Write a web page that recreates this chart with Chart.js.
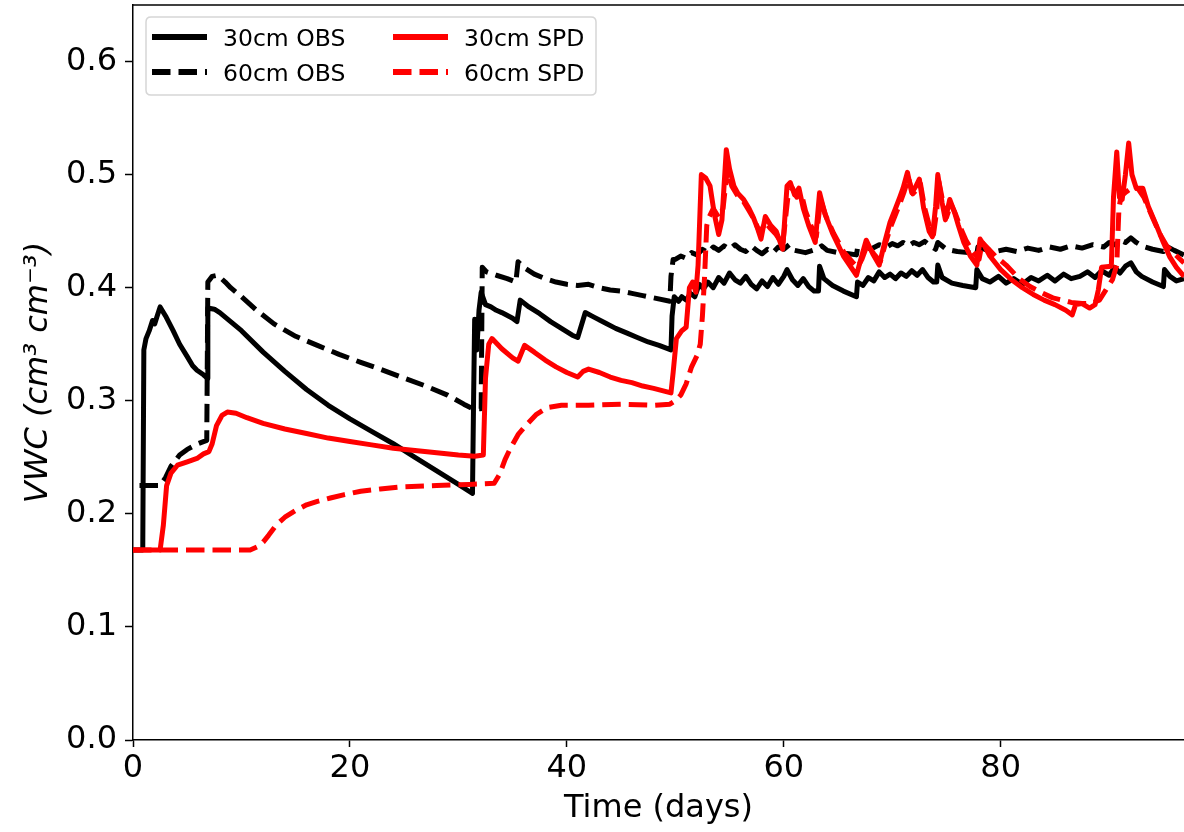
<!DOCTYPE html>
<html>
<head>
<meta charset="utf-8">
<script src="https://cdn.jsdelivr.net/npm/chart.js@4.4.1/dist/chart.umd.min.js"></script>
<style>
  html, body { margin: 0; padding: 0; background: #fff; }
  #wrap { width: 1184px; height: 832px; position: relative; }
</style>
</head>
<body>
<div id="wrap"><canvas id="c" width="1184" height="832"></canvas></div>
<script>
// ---------- data ----------
const seriesLabels = ['30cm OBS', '60cm OBS', '30cm SPD', '60cm SPD'];
const xTickValues = [0, 20, 40, 60, 80];
const yTickValues = [0.0, 0.1, 0.2, 0.3, 0.4, 0.5, 0.6];

const obs30Days = [0, 0.9, 1.0, 1.2, 1.5, 1.8, 2.0, 2.2, 2.5, 3.0, 3.7, 4.3, 5.0, 5.5, 5.9, 6.5, 6.85, 6.9, 7.5, 8.0, 9.0, 10.0, 12.0, 14.0, 16.0, 18.0, 20.0, 22.0, 24.0, 26.0, 28.0, 30.0, 31.3, 31.4, 31.5, 31.7, 31.9, 32.1, 32.5, 33.0, 33.5, 34.0, 35.0, 35.4, 35.7, 36.5, 37.5, 38.5, 39.5, 40.5, 41.0, 41.7, 42.5, 43.5, 44.5, 45.5, 46.5, 47.5, 48.5, 49.6, 49.7, 49.9, 50.3, 50.6, 51.0, 51.4, 51.8, 52.2, 52.6, 53.0, 53.5, 54.0, 54.5, 55.0, 55.5, 56.0, 56.5, 57.0, 57.5, 58.0, 58.5, 59.0, 59.5, 60.0, 60.3, 60.8, 61.3, 61.8, 62.3, 62.8, 63.2, 63.3, 63.7, 64.5, 65.5, 66.7, 66.8, 67.3, 67.8, 68.3, 68.8, 69.3, 69.8, 70.3, 70.8, 71.3, 71.8, 72.3, 72.8, 73.3, 73.8, 74.1, 74.2, 74.6, 75.5, 76.5, 77.7, 77.8, 78.3, 79.0, 79.8, 80.5, 81.2, 82.0, 82.8, 83.5, 84.3, 85.0, 85.8, 86.5, 87.3, 88.0, 88.7, 89.3, 90.0, 90.5, 91.0, 91.5, 92.0, 92.5, 93.0, 94.0, 95.0, 95.1, 95.6, 96.2, 96.9];
const obs30Vals = [0.168, 0.168, 0.345, 0.355, 0.362, 0.371, 0.368, 0.374, 0.383, 0.375, 0.362, 0.350, 0.339, 0.331, 0.327, 0.323, 0.320, 0.382, 0.381, 0.378, 0.370, 0.362, 0.343, 0.326, 0.310, 0.296, 0.284, 0.273, 0.262, 0.250, 0.238, 0.226, 0.218, 0.300, 0.372, 0.345, 0.380, 0.396, 0.385, 0.383, 0.380, 0.378, 0.373, 0.370, 0.389, 0.383, 0.377, 0.370, 0.364, 0.358, 0.356, 0.378, 0.374, 0.369, 0.364, 0.360, 0.356, 0.352, 0.349, 0.345, 0.375, 0.392, 0.388, 0.392, 0.389, 0.395, 0.392, 0.403, 0.399, 0.405, 0.400, 0.409, 0.404, 0.413, 0.407, 0.404, 0.410, 0.403, 0.399, 0.406, 0.401, 0.409, 0.403, 0.410, 0.416, 0.407, 0.402, 0.408, 0.401, 0.397, 0.397, 0.419, 0.408, 0.402, 0.397, 0.392, 0.405, 0.402, 0.409, 0.406, 0.414, 0.409, 0.412, 0.408, 0.413, 0.410, 0.415, 0.411, 0.416, 0.409, 0.405, 0.405, 0.420, 0.409, 0.404, 0.402, 0.400, 0.416, 0.408, 0.405, 0.410, 0.404, 0.408, 0.403, 0.409, 0.406, 0.411, 0.406, 0.412, 0.408, 0.410, 0.414, 0.409, 0.415, 0.411, 0.418, 0.413, 0.419, 0.422, 0.414, 0.410, 0.405, 0.401, 0.416, 0.410, 0.406, 0.408];

const obs60Days = [0.6, 2.5, 3.0, 3.5, 4.3, 5.0, 6.0, 6.8, 6.9, 7.3, 7.8, 8.5, 9.0, 10.0, 11.4, 13.0, 15.0, 17.0, 19.0, 21.0, 22.5, 25.0, 27.0, 29.0, 30.5, 31.3, 32.1, 32.2, 32.6, 33.5, 34.5, 35.3, 35.5, 36.0, 37.0, 38.0, 39.0, 40.0, 41.0, 42.0, 43.0, 44.0, 45.0, 46.0, 47.0, 48.0, 49.5, 49.6, 49.8, 50.0, 50.5, 51.0, 51.5, 52.0, 52.5, 53.0, 53.5, 54.0, 54.5, 55.0, 55.5, 56.0, 56.5, 57.0, 57.5, 58.0, 58.5, 59.0, 59.5, 60.0, 60.5, 61.0, 62.0, 63.0, 63.5, 64.0, 65.0, 66.0, 66.7, 66.8, 67.5, 68.0, 68.8, 69.5, 70.0, 70.5, 71.0, 71.5, 72.0, 72.5, 73.0, 73.5, 74.0, 74.2, 75.0, 76.0, 77.0, 77.8, 77.9, 78.5, 79.5, 80.5, 81.5, 82.5, 83.5, 84.5, 85.5, 86.5, 87.5, 88.5, 89.5, 90.0, 90.5, 91.0, 91.5, 92.0, 92.5, 93.0, 94.0, 95.0, 95.2, 96.0, 96.9];
const obs60Vals = [0.225, 0.225, 0.232, 0.242, 0.252, 0.257, 0.262, 0.265, 0.405, 0.410, 0.411, 0.405, 0.400, 0.392, 0.380, 0.368, 0.357, 0.349, 0.341, 0.334, 0.329, 0.320, 0.313, 0.305, 0.297, 0.293, 0.293, 0.418, 0.414, 0.411, 0.408, 0.405, 0.423, 0.418, 0.412, 0.408, 0.405, 0.403, 0.402, 0.403, 0.400, 0.398, 0.397, 0.395, 0.393, 0.391, 0.388, 0.410, 0.425, 0.425, 0.428, 0.426, 0.431, 0.429, 0.434, 0.431, 0.436, 0.433, 0.437, 0.434, 0.438, 0.434, 0.432, 0.437, 0.433, 0.430, 0.434, 0.431, 0.436, 0.434, 0.438, 0.433, 0.431, 0.434, 0.437, 0.433, 0.431, 0.430, 0.429, 0.435, 0.437, 0.434, 0.438, 0.436, 0.439, 0.437, 0.440, 0.437, 0.440, 0.438, 0.441, 0.437, 0.434, 0.440, 0.434, 0.432, 0.431, 0.430, 0.436, 0.434, 0.432, 0.434, 0.432, 0.435, 0.433, 0.436, 0.434, 0.437, 0.435, 0.438, 0.436, 0.440, 0.438, 0.442, 0.440, 0.444, 0.440, 0.437, 0.434, 0.432, 0.437, 0.433, 0.429];

const spd30Days = [0, 2.5, 2.8, 3.1, 3.5, 4.1, 5.0, 5.9, 6.5, 7.0, 7.3, 7.7, 8.2, 8.7, 9.5, 10.5, 12.0, 14.0, 16.0, 18.0, 20.0, 22.0, 24.0, 26.0, 28.0, 30.0, 31.5, 32.3, 32.5, 32.8, 33.1, 34.0, 35.0, 35.5, 36.1, 37.0, 38.0, 39.0, 40.0, 41.0, 41.5, 42.0, 43.0, 44.0, 45.0, 46.0, 47.0, 48.0, 49.6, 49.8, 50.1, 50.6, 51.0, 51.3, 51.6, 51.9, 52.1, 52.4, 52.8, 53.2, 53.6, 54.0, 54.3, 54.7, 55.0, 55.4, 55.8, 56.3, 56.8, 57.2, 57.6, 57.9, 58.3, 58.8, 59.3, 59.9, 60.3, 60.6, 61.0, 61.4, 61.8, 62.3, 62.9, 63.3, 63.8, 64.5, 65.5, 66.7, 67.1, 67.6, 68.2, 68.8, 69.3, 69.8, 70.3, 70.7, 71.0, 71.4, 71.8, 72.2, 72.5, 72.9, 73.4, 73.7, 74.0, 74.2, 74.6, 74.9, 75.3, 75.7, 76.1, 76.6, 77.2, 77.8, 78.1, 78.5, 79.0, 80.0, 81.0, 82.0, 83.0, 84.0, 85.0, 86.0, 86.6, 86.9, 87.5, 88.2, 88.7, 89.0, 89.3, 90.2, 90.4, 90.7, 90.95, 91.2, 91.5, 91.8, 92.1, 92.5, 93.1, 93.6, 94.4, 95.0, 95.6, 96.2, 96.9];
const spd30Vals = [0.168, 0.168, 0.190, 0.225, 0.236, 0.243, 0.246, 0.249, 0.253, 0.255, 0.262, 0.278, 0.287, 0.290, 0.289, 0.285, 0.280, 0.275, 0.271, 0.267, 0.264, 0.261, 0.258, 0.256, 0.254, 0.252, 0.251, 0.252, 0.320, 0.350, 0.355, 0.346, 0.338, 0.335, 0.349, 0.343, 0.336, 0.330, 0.325, 0.321, 0.326, 0.328, 0.325, 0.321, 0.318, 0.316, 0.313, 0.311, 0.307, 0.325, 0.355, 0.362, 0.365, 0.400, 0.405, 0.396, 0.420, 0.500, 0.497, 0.490, 0.465, 0.447, 0.460, 0.522, 0.505, 0.490, 0.483, 0.478, 0.470, 0.462, 0.452, 0.443, 0.463, 0.455, 0.450, 0.434, 0.490, 0.493, 0.482, 0.488, 0.470, 0.455, 0.440, 0.484, 0.465, 0.448, 0.428, 0.411, 0.425, 0.442, 0.430, 0.420, 0.440, 0.458, 0.470, 0.480, 0.488, 0.502, 0.484, 0.490, 0.496, 0.470, 0.450, 0.445, 0.472, 0.500, 0.475, 0.460, 0.478, 0.468, 0.455, 0.440, 0.428, 0.420, 0.443, 0.437, 0.428, 0.416, 0.407, 0.400, 0.394, 0.389, 0.385, 0.380, 0.376, 0.385, 0.386, 0.382, 0.385, 0.398, 0.418, 0.419, 0.480, 0.520, 0.480, 0.478, 0.500, 0.528, 0.500, 0.488, 0.488, 0.472, 0.454, 0.440, 0.427, 0.418, 0.410];

const spd60Days = [0, 10.8, 11.5, 12.0, 12.5, 13.2, 14.0, 15.0, 16.0, 17.0, 18.2, 19.5, 21.0, 22.8, 25.0, 28.0, 31.0, 33.3, 33.8, 34.3, 34.8, 35.5, 36.3, 37.2, 38.2, 39.5, 42.0, 45.0, 48.0, 49.5, 50.0, 50.5, 51.0, 51.5, 52.0, 52.3, 52.5, 52.7, 52.9, 53.1, 53.5, 54.0, 54.4, 54.8, 55.2, 55.7, 56.3, 56.8, 57.3, 57.8, 58.3, 58.8, 59.3, 59.9, 60.4, 60.8, 61.2, 61.6, 62.0, 62.5, 63.0, 63.4, 63.9, 64.6, 65.5, 66.3, 66.8, 67.2, 67.7, 68.3, 68.9, 69.4, 69.9, 70.4, 70.8, 71.1, 71.5, 71.9, 72.3, 72.6, 73.0, 73.5, 73.8, 74.1, 74.3, 74.7, 75.0, 75.4, 75.8, 76.3, 76.8, 77.4, 78.0, 78.3, 78.7, 79.5, 80.5, 81.7, 82.7, 83.7, 84.8, 85.7, 86.5, 87.5, 88.3, 89.1, 89.7, 90.3, 90.7, 90.9, 91.1, 91.6, 92.2, 92.7, 93.2, 94.0, 94.7, 95.3, 95.9, 96.9];
const spd60Vals = [0.168, 0.168, 0.171, 0.175, 0.181, 0.190, 0.197, 0.203, 0.208, 0.211, 0.214, 0.217, 0.220, 0.222, 0.224, 0.225, 0.226, 0.227, 0.235, 0.248, 0.258, 0.270, 0.279, 0.288, 0.294, 0.296, 0.296, 0.297, 0.296, 0.297, 0.300, 0.305, 0.315, 0.330, 0.340, 0.350, 0.375, 0.410, 0.455, 0.462, 0.470, 0.462, 0.470, 0.505, 0.490, 0.482, 0.476, 0.468, 0.460, 0.448, 0.458, 0.452, 0.447, 0.438, 0.482, 0.488, 0.480, 0.484, 0.468, 0.455, 0.445, 0.478, 0.463, 0.448, 0.432, 0.423, 0.418, 0.425, 0.438, 0.430, 0.423, 0.440, 0.455, 0.467, 0.477, 0.485, 0.497, 0.483, 0.487, 0.492, 0.470, 0.452, 0.447, 0.468, 0.494, 0.474, 0.462, 0.474, 0.466, 0.453, 0.442, 0.432, 0.425, 0.440, 0.436, 0.428, 0.420, 0.408, 0.401, 0.396, 0.391, 0.389, 0.387, 0.386, 0.386, 0.389, 0.398, 0.407, 0.420, 0.470, 0.481, 0.485, 0.489, 0.487, 0.480, 0.462, 0.447, 0.437, 0.431, 0.422];

// ---------- build ----------
function pts(days, vals) { return days.map((d, i) => ({ x: d, y: vals[i] })); }
const FONT = "'DejaVu Sans', 'Liberation Sans', sans-serif";
const DASH = [18.5, 8];

const datasets = [
  { label: seriesLabels[0], data: pts(obs30Days, obs30Vals), borderColor: '#000000', borderDash: [], order: 4 },
  { label: seriesLabels[1], data: pts(obs60Days, obs60Vals), borderColor: '#000000', borderDash: DASH, order: 3 },
  { label: seriesLabels[2], data: pts(spd30Days, spd30Vals), borderColor: '#ff0000', borderDash: [], order: 2 },
  { label: seriesLabels[3], data: pts(spd60Days, spd60Vals), borderColor: '#ff0000', borderDash: DASH, order: 1 }
].map(d => Object.assign(d, {
  borderWidth: 5, pointRadius: 0, tension: 0, fill: false,
  borderJoinStyle: 'round', borderCapStyle: 'butt', spanGaps: true
}));

const frameAndLegend = {
  id: 'frameAndLegend',
  afterDraw(chart) {
    const ctx = chart.ctx, a = chart.chartArea;
    ctx.save();
    // top spine
    ctx.strokeStyle = '#000'; ctx.lineWidth = 1.5;
    ctx.beginPath(); ctx.moveTo(a.left, a.top); ctx.lineTo(a.right, a.top); ctx.stroke();
    // legend box
    const bx = 146, by = 17, bw = 450, bh = 78, r = 5;
    ctx.beginPath();
    ctx.moveTo(bx + r, by); ctx.lineTo(bx + bw - r, by); ctx.quadraticCurveTo(bx + bw, by, bx + bw, by + r);
    ctx.lineTo(bx + bw, by + bh - r); ctx.quadraticCurveTo(bx + bw, by + bh, bx + bw - r, by + bh);
    ctx.lineTo(bx + r, by + bh); ctx.quadraticCurveTo(bx, by + bh, bx, by + bh - r);
    ctx.lineTo(bx, by + r); ctx.quadraticCurveTo(bx, by, bx + r, by);
    ctx.closePath();
    ctx.fillStyle = 'rgba(255,255,255,0.8)'; ctx.fill();
    ctx.strokeStyle = '#d6d6d6'; ctx.lineWidth = 1.5; ctx.stroke();
    // entries: column-major (matplotlib ncol=2)
    const cols = [152, 393], rows = [37, 72];
    const ds = chart.data.datasets;
    ds.forEach((d, i) => {
      const cx = cols[Math.floor(i / 2)], cy = rows[i % 2];
      ctx.strokeStyle = d.borderColor; ctx.lineWidth = 6; ctx.lineCap = 'butt';
      ctx.setLineDash(d.borderDash || []);
      ctx.beginPath(); ctx.moveTo(cx, cy); ctx.lineTo(cx + 55, cy); ctx.stroke();
      ctx.setLineDash([]);
      ctx.fillStyle = '#000'; ctx.font = '23.5px ' + FONT;
      ctx.textBaseline = 'alphabetic'; ctx.textAlign = 'left';
      ctx.fillText(d.label, cx + 71, cy + 9);
    });
    ctx.restore();
  }
};

new Chart(document.getElementById('c'), {
  type: 'line',
  data: { datasets },
  plugins: [frameAndLegend],
  options: {
    responsive: false,
    animation: false,
    events: [],
    layout: { padding: { top: 5, right: 0, bottom: 0, left: 0 } },
    plugins: { legend: { display: false }, tooltip: { enabled: false } },
    scales: {
      x: {
        type: 'linear', min: 0, max: 96.9,
        afterFit(s) { s.height = 92; s.paddingLeft = 0; s.paddingRight = 0; },
        afterBuildTicks(s) { s.ticks = xTickValues.map(v => ({ value: v })); },
        ticks: { color: '#000', font: { family: FONT, size: 32 }, padding: 2, maxRotation: 0, includeBounds: false,
                 callback: v => String(v) },
        grid: { display: true, drawOnChartArea: false, drawTicks: true, tickLength: 7, color: '#000', tickWidth: 1.5 },
        border: { display: true, color: '#000', width: 1.5 },
        title: { display: true, text: 'Time (days)', color: '#000', font: { family: FONT, size: 32 }, padding: { top: 0, bottom: 4 } }
      },
      y: {
        type: 'linear', min: 0, max: 0.65,
        afterFit(s) { s.width = 133; s.paddingTop = 0; s.paddingBottom = 0; },
        afterBuildTicks(s) { s.ticks = yTickValues.map(v => ({ value: v })); },
        ticks: { color: '#000', font: { family: FONT, size: 32 }, padding: 8, includeBounds: false,
                 callback: v => Number(v).toFixed(1) },
        grid: { display: true, drawOnChartArea: false, drawTicks: true, tickLength: 8, color: '#000', tickWidth: 1.5 },
        border: { display: true, color: '#000', width: 1.5 },
        title: { display: true, text: 'VWC (cm³ cm⁻³)', color: '#000', font: { family: FONT, size: 32, style: 'italic' }, padding: { top: 19, bottom: 0 } }
      }
    }
  }
});
</script>
</body>
</html>
